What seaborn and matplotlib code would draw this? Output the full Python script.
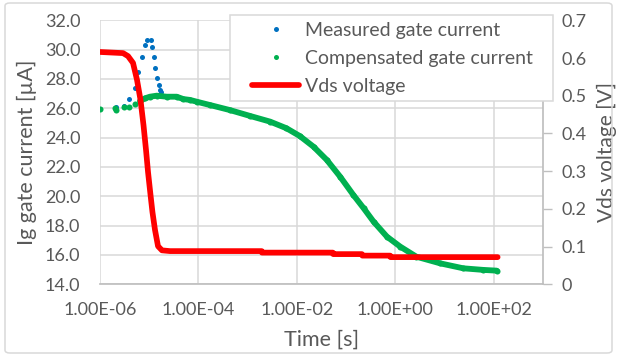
import matplotlib
matplotlib.use("Agg")
import matplotlib.pyplot as plt
from matplotlib.patches import FancyBboxPatch
from matplotlib.lines import Line2D
from matplotlib.legend_handler import HandlerLine2D
from matplotlib.ticker import NullLocator
import numpy as np
import pandas as pd
import seaborn as sns

# Measured gate current (only the switching transient differs from the compensated trace)
meas_t = [2.10e-6, 3.13e-6, 3.97e-6, 5.19e-6, 6.05e-6, 7.10e-6, 8.28e-6, 9.09e-6,
          1.08e-5, 1.16e-5, 1.26e-5, 1.35e-5, 1.47e-5, 1.56e-5, 1.63e-5, 1.71e-5]
meas_i = [26.11, 26.19, 26.65, 27.36, 28.45, 29.48, 30.31, 30.66,
          30.66, 30.20, 29.48, 28.77, 28.04, 27.59, 27.28, 27.11]

# Compensated gate current [uA]
comp_t = [1.01e-6, 2.04e-6, 2.13e-6, 3.10e-6, 3.97e-6, 5.19e-6, 6.55e-6, 8.28e-6,
          1.04e-5, 1.43e-5, 2.28e-5, 3.64e-5, 4.95e-5, 6.79e-5, 9.29e-5, 1.74e-4,
          4.37e-4, 1.12e-3, 2.88e-3, 6.17e-3, 1.15e-2, 2.19e-2, 4.07e-2, 7.59e-2,
          0.141, 0.229, 0.363, 0.676, 1.26, 2.69, 8.13, 24.0, 61.7, 115.0]
comp_i = [25.93, 26.00, 25.88, 26.11, 26.07, 26.29, 26.50, 26.68,
          26.79, 26.86, 26.79, 26.79, 26.63, 26.57, 26.45, 26.22,
          25.88, 25.48, 25.09, 24.64, 24.11, 23.38, 22.48, 21.34,
          20.09, 19.18, 18.27, 17.25, 16.57, 15.88, 15.43, 15.09, 14.98, 14.93]

# Drain-source voltage [V]
vds_t = [1.0e-6, 2.96e-6, 3.74e-6, 4.72e-6, 5.69e-6, 6.70e-6, 7.71e-6, 8.67e-6,
         9.52e-6, 1.07e-5, 1.17e-5, 1.32e-5, 1.52e-5, 1.83e-5, 2.66e-5,
         1.94e-3, 1.96e-3, 5.4e-2, 5.5e-2, 0.21, 0.215, 0.79, 0.80, 120.0]
vds_v = [0.616, 0.613, 0.605, 0.587, 0.542, 0.489, 0.422, 0.356,
         0.298, 0.237, 0.192, 0.144, 0.101, 0.090, 0.088,
         0.088, 0.084, 0.084, 0.080, 0.080, 0.076, 0.076, 0.072, 0.072]

x_ticks = [1e-6, 1e-4, 1e-2, 1e0, 1e2]
x_ticklabels = ["1.00E-06", "1.00E-04", "1.00E-02", "1.00E+00", "1.00E+02"]
left_ticks = [14, 16, 18, 20, 22, 24, 26, 28, 30, 32]
left_ticklabels = ["14.0", "16.0", "18.0", "20.0", "22.0", "24.0", "26.0", "28.0", "30.0", "32.0"]
right_ticks = [0, 0.1, 0.2, 0.3, 0.4, 0.5, 0.6, 0.7]
right_ticklabels = ["0", "0.1", "0.2", "0.3", "0.4", "0.5", "0.6", "0.7"]

BLUE = "#0070C0"
GREEN = "#00B050"
RED = "#FF0000"
TEXT = "#595959"
GRID = "#D9D9D9"
SPINE = "#BFBFBF"


class InsetHandle(HandlerLine2D):
    """Legend handle whose line starts a quarter of the way into the handle box."""

    def get_xdata(self, legend, xdescent, ydescent, width, height, fontsize):
        start = -xdescent + 0.25 * width
        end = -xdescent + width
        return [start, end], [0.5 * (start + end)]


sns.set_theme(style="white")
plt.rcParams["font.family"] = ["Lato", "DejaVu Sans"]

meas = pd.DataFrame({"t": meas_t, "i": meas_i})
comp = pd.DataFrame({"t": comp_t, "i": comp_i})
vds = pd.DataFrame({"t": vds_t, "v": vds_v})
comp_dense = comp[comp["t"] >= 6e-6]

fig = plt.figure(figsize=(6.17, 3.58), dpi=100)
ax = fig.add_axes([0.1618, 0.2059, 0.880 - 0.1618, 0.9433 - 0.2059])
ax.set_xscale("log")
ax2 = ax.twinx()

sns.scatterplot(data=meas, x="t", y="i", ax=ax, color=BLUE, s=13, linewidth=0, zorder=3)
sns.lineplot(data=comp_dense, x="t", y="i", ax=ax, color=GREEN, lw=4.2,
             estimator=None, sort=False, zorder=4, solid_capstyle="round")
sns.scatterplot(data=comp, x="t", y="i", ax=ax, color=GREEN, s=19, linewidth=0, zorder=4)
sns.lineplot(data=vds, x="t", y="v", ax=ax2, color=RED, lw=4.1,
             estimator=None, sort=False, solid_capstyle="round", solid_joinstyle="round")

ax.set_xlim(1e-6, 1e3)
ax.set_ylim(14, 32)
ax2.set_ylim(0, 0.7)

ax.xaxis.set_minor_locator(NullLocator())
ax.set_xticks(x_ticks)
ax.set_xticklabels(x_ticklabels)
ax.set_yticks(left_ticks)
ax.set_yticklabels(left_ticklabels)
ax2.set_yticks(right_ticks)
ax2.set_yticklabels(right_ticklabels)

ax.grid(True, color=GRID, lw=1.1)
ax.set_axisbelow(True)
ax.tick_params(axis="x", length=0, pad=13, labelsize=13, labelcolor=TEXT)
ax.tick_params(axis="y", length=0, pad=14, labelsize=13, labelcolor=TEXT)
ax2.tick_params(axis="y", length=6.5, width=1, color=SPINE, pad=7, labelsize=13,
                labelcolor=TEXT, direction="out")

for name, sp in ax.spines.items():
    sp.set_visible(name == "bottom")
    sp.set_color(SPINE)
for name, sp in ax2.spines.items():
    sp.set_visible(name == "right")
    sp.set_color(SPINE)

ax.set_xlabel("Time [s]", fontsize=15.5, color=TEXT, labelpad=8)
ax.set_ylabel("Ig gate current [µA]", fontsize=15.5, color=TEXT, labelpad=5.5)
ax2.set_ylabel("Vds voltage [V]", fontsize=15, color=TEXT, labelpad=7, rotation=90)

handles = [
    Line2D([], [], ls="none", marker="o", markersize=3.6, color=BLUE, markeredgewidth=0),
    Line2D([], [], ls="none", marker="o", markersize=3.6, color=GREEN, markeredgewidth=0),
    Line2D([], [], color=RED, lw=4.1),
]
labels = ["Measured gate current", "Compensated gate current", "Vds voltage"]
leg = ax2.legend(handles, labels, loc="upper left", mode="expand",
                 bbox_to_anchor=(230 / 617, 0, (553 - 230) / 617, 1 - 15 / 358),
                 bbox_transform=fig.transFigure, borderaxespad=0,
                 handler_map={Line2D: InsetHandle()},
                 frameon=True, fancybox=False, framealpha=1, edgecolor=GRID,
                 fontsize=14, labelcolor=TEXT, handlelength=3.23, handletextpad=0.28,
                 borderpad=0.34, labelspacing=0.57)
leg.get_frame().set_linewidth(1.1)
leg.set_zorder(10)

# Light rounded border around the whole chart area
fig.patches.append(FancyBboxPatch((5 / 617, 1 - 353 / 358), (612 - 5) / 617, (353 - 3) / 358,
                                  boxstyle="round,pad=0,rounding_size=0.008",
                                  transform=fig.transFigure, fc="none", ec=GRID, lw=1.1))

fig.savefig("out.png", dpi=100)
